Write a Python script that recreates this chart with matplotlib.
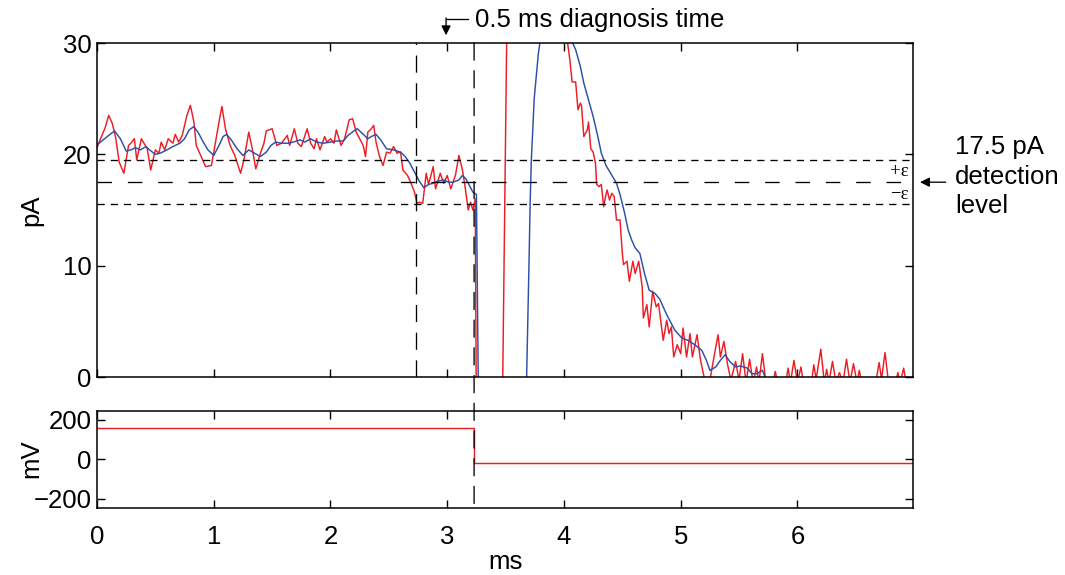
import matplotlib
matplotlib.use("Agg")
import matplotlib.pyplot as plt
from matplotlib.patches import ConnectionPatch

# measured current (red) and filtered current (blue), pA vs ms
red_t = [0.00, 0.03, 0.07, 0.10, 0.13, 0.16, 0.19, 0.23, 0.27, 0.29, 0.32, 0.34, 0.38, 0.43, 0.46,
         0.50, 0.53, 0.55, 0.58, 0.61, 0.65, 0.67, 0.70, 0.73, 0.77, 0.80, 0.83, 0.85, 0.90, 0.93,
         0.98, 1.01, 1.05, 1.07, 1.10, 1.14, 1.18, 1.23, 1.26, 1.30, 1.33, 1.36, 1.40, 1.43, 1.45,
         1.50, 1.54, 1.58, 1.63, 1.65, 1.69, 1.72, 1.75, 1.80, 1.83, 1.86, 1.88, 1.91, 1.95, 1.97,
         2.00, 2.03, 2.05, 2.09, 2.12, 2.14, 2.16, 2.19, 2.22, 2.25, 2.28, 2.30, 2.32, 2.35, 2.37,
         2.39, 2.42, 2.45, 2.48, 2.51, 2.54, 2.57, 2.60, 2.62, 2.66, 2.69, 2.72, 2.74, 2.76, 2.79,
         2.82, 2.84, 2.88, 2.90, 2.94, 2.97, 3.00, 3.03, 3.07, 3.10, 3.13, 3.15, 3.18, 3.20, 3.22,
         3.24, 3.25, 3.47, 3.52, 3.98, 4.03, 4.05, 4.07, 4.10, 4.12, 4.14, 4.15, 4.17, 4.20, 4.21,
         4.23, 4.25, 4.27, 4.28, 4.30, 4.32, 4.34, 4.36, 4.37, 4.39, 4.41, 4.43, 4.45, 4.48, 4.50,
         4.51, 4.54, 4.56, 4.59, 4.61, 4.64, 4.67, 4.68, 4.71, 4.73, 4.76, 4.79, 4.81, 4.85, 4.88,
         4.90, 4.92, 4.94, 4.97, 5.00, 5.02, 5.05, 5.08, 5.10, 5.14, 5.17, 5.21, 5.25, 5.29, 5.32,
         5.34, 5.37, 5.40, 5.43, 5.47, 5.50, 5.53, 5.56, 5.59, 5.62, 5.65, 5.67, 5.70, 5.73, 5.79,
         5.81, 5.83, 5.90, 5.92, 5.94, 5.97, 6.00, 6.03, 6.05, 6.12, 6.14, 6.16, 6.20, 6.23, 6.25,
         6.27, 6.30, 6.33, 6.36, 6.39, 6.42, 6.45, 6.48, 6.51, 6.53, 6.55, 6.67, 6.70, 6.72, 6.75,
         6.78, 6.84, 6.86, 6.88, 6.91, 6.93]
red_pa = [20.6, 21.4, 22.4, 23.5, 22.8, 21.5, 19.3, 18.3, 20.8, 21.0, 21.4, 19.5, 21.4, 20.5, 18.6,
          20.4, 20.1, 21.1, 20.4, 21.4, 21.0, 21.8, 21.1, 21.7, 23.5, 24.4, 22.9, 20.8, 19.6, 18.9,
          19.0, 20.8, 23.2, 24.3, 22.3, 20.8, 19.9, 18.3, 19.6, 22.0, 20.5, 18.7, 20.1, 21.0, 22.1,
          22.3, 20.8, 21.0, 21.7, 20.8, 22.3, 21.0, 20.7, 22.3, 21.0, 20.5, 21.4, 20.4, 21.6, 21.1,
          21.4, 21.0, 22.2, 20.8, 21.4, 22.2, 23.1, 23.2, 22.0, 21.4, 20.8, 19.8, 22.0, 22.3, 22.6,
          21.1, 19.8, 19.0, 20.2, 20.1, 20.7, 20.1, 20.2, 18.6, 18.1, 17.4, 16.6, 15.6, 15.7, 15.6,
          18.3, 17.3, 18.9, 16.9, 18.3, 17.4, 18.1, 16.9, 18.1, 19.9, 18.6, 17.3, 15.0, 15.7, 15.0,
          16.0, -5.0, -5.0, 40.0, 40.0, 30.1, 28.5, 26.5, 26.5, 24.0, 24.6, 24.4, 21.6, 22.2, 22.9,
          20.5, 20.2, 19.2, 17.3, 17.1, 17.3, 15.3, 16.4, 16.8, 15.9, 16.5, 16.2, 14.1, 14.1, 11.1,
          10.1, 10.4, 8.6, 10.4, 9.3, 10.4, 8.1, 5.3, 6.5, 4.5, 7.7, 6.3, 6.6, 3.3, 5.1,
          3.9, 4.5, 1.8, 2.9, 2.1, 4.4, 1.8, 3.9, 1.8, 3.8, 1.5, -0.5, -0.3, 2.1, 3.8,
          1.8, 3.2, 1.2, -0.3, 1.4, -0.3, 2.1, -0.5, 1.6, -0.5, 0.9, -0.5, 2.1, -0.5, -0.5,
          0.5, -0.5, -0.5, 0.8, -0.5, 1.5, -0.5, 0.9, -0.5, -0.5, 1.1, -0.2, 2.5, -0.5, 0.7,
          -0.5, 1.4, -0.5, 0.4, -0.5, 1.6, -0.5, 1.2, -0.5, 0.6, -0.5, -0.5, 1.3, -0.2, 2.2,
          -0.5, -0.5, 0.4, -0.5, 0.8, -0.5]

blue_t = [0.00, 0.03, 0.10, 0.15, 0.20, 0.25, 0.29, 0.33, 0.37, 0.42, 0.45, 0.50, 0.54, 0.60, 0.65,
          0.71, 0.75, 0.79, 0.83, 0.87, 0.91, 0.95, 1.00, 1.04, 1.08, 1.11, 1.15, 1.20, 1.25, 1.30,
          1.35, 1.40, 1.45, 1.49, 1.53, 1.58, 1.64, 1.68, 1.74, 1.78, 1.83, 1.88, 1.94, 2.00, 2.05,
          2.11, 2.15, 2.20, 2.23, 2.27, 2.32, 2.35, 2.39, 2.43, 2.48, 2.54, 2.60, 2.64, 2.68, 2.72,
          2.76, 2.80, 2.84, 2.88, 2.92, 2.97, 3.01, 3.05, 3.10, 3.13, 3.16, 3.20, 3.22, 3.25, 3.27,
          3.66, 3.68, 3.70, 3.71, 3.72, 3.745, 3.78, 3.80, 3.84, 4.02, 4.07, 4.10, 4.14, 4.17, 4.21,
          4.25, 4.29, 4.32, 4.36, 4.40, 4.45, 4.48, 4.52, 4.55, 4.58, 4.61, 4.65, 4.69, 4.73, 4.78,
          4.82, 4.88, 4.95, 5.01, 5.06, 5.12, 5.18, 5.22, 5.25, 5.30, 5.34, 5.38, 5.42, 5.47, 5.51,
          5.57, 5.61, 5.65, 5.70, 5.74, 6.90]
blue_pa = [20.9, 21.1, 21.7, 22.1, 21.4, 20.3, 20.4, 20.6, 20.4, 20.7, 20.4, 20.0, 20.1, 20.4, 20.7,
           21.0, 21.4, 22.2, 22.5, 21.9, 21.1, 20.4, 19.9, 20.7, 21.6, 21.8, 21.3, 20.5, 19.9, 20.4,
           20.1, 19.8, 20.2, 20.8, 21.1, 21.0, 21.0, 21.1, 21.3, 21.1, 21.4, 21.1, 21.0, 21.1, 21.2,
           21.2, 21.7, 22.1, 22.3, 21.9, 21.4, 21.6, 21.8, 21.3, 20.5, 20.4, 20.2, 19.8, 19.2, 18.4,
           17.6, 17.0, 17.3, 17.4, 17.6, 17.7, 17.5, 17.5, 17.7, 18.1, 17.8, 17.0, 16.6, 16.4, -5.0,
           -5.0, 0.0, 10.0, 15.5, 19.4, 25.0, 29.0, 30.5, 36.0, 36.0, 30.1, 29.4, 27.9, 26.4, 24.9,
           23.4, 21.6, 20.1, 19.0, 18.3, 17.4, 16.4, 14.7, 13.2, 12.3, 11.6, 11.1, 9.3, 7.8, 7.5,
           7.0, 5.6, 4.2, 3.5, 3.3, 2.9, 2.4, 1.5, 0.6, 0.9, 1.5, 2.0, 1.4, 0.9, 1.0,
           0.8, 0.3, 0.3, 0.6, -0.5, -0.5]

# applied voltage, mV vs ms
mv_t = [0.0, 3.23, 3.23, 6.99]
mv_v = [160, 160, -20, -20]

detect_level = 17.5
eps = 2.0
t_start = 2.73
t_diag = 3.23

plt.rcParams["font.family"] = ["Liberation Sans", "DejaVu Sans"]
plt.rcParams["font.size"] = 18.5

fig = plt.figure(figsize=(10.65, 5.75), dpi=100)
ax1 = fig.add_axes([0.0911, 0.3443, 0.7662, 0.5809])
ax2 = fig.add_axes([0.0911, 0.1165, 0.7662, 0.1687])

red = "#ee1c24"
blue = "#2c4fa8"

ax1.plot(red_t, red_pa, color=red, lw=1.05)
ax1.plot(blue_t, blue_pa, color=blue, lw=1.05)

short = (0, (5.5, 4.5))
ax1.axhline(detect_level + eps, color="black", lw=0.95, linestyle=short)
ax1.axhline(detect_level - eps, color="black", lw=0.95, linestyle=short)
ax1.axhline(detect_level, color="black", lw=0.95, linestyle=(0, (11, 12)))
ax1.axvline(t_start, color="black", lw=0.95, linestyle=(0, (13, 8)))

ax1.text(6.95, 18.5, "+ε", family="Liberation Serif", fontsize=13.5, ha="right", va="center")
ax1.text(6.95, 16.4, "−ε", family="Liberation Serif", fontsize=13.5, ha="right", va="center")

ax1.set_xlim(0, 6.99)
ax1.set_ylim(0, 30)
ax1.set_yticks([0, 10, 20, 30])
ax1.set_xticks(range(7))
ax1.tick_params(labelbottom=False)
ax1.set_ylabel("pA")
ax1.yaxis.set_label_coords(0.041, 0.635, transform=fig.transFigure)

# diagnosis-time annotation
ax1.plot([2.99, 3.18], [32.2, 32.2], color="black", lw=0.95, clip_on=False)
ax1.annotate("", xy=(2.99, 30.7), xytext=(2.99, 32.25),
             arrowprops=dict(arrowstyle="-|>", color="black", lw=0.95, mutation_scale=14,
                             shrinkA=0, shrinkB=0),
             annotation_clip=False)
ax1.text(3.24, 32.1, "0.5 ms diagnosis time", ha="left", va="center", clip_on=False)

# detection-level annotation
ax1.annotate("", xy=(7.05, detect_level), xytext=(7.27, detect_level),
             arrowprops=dict(arrowstyle="-|>", color="black", lw=0.95, mutation_scale=14,
                             shrinkA=0, shrinkB=0),
             annotation_clip=False)
ax1.text(7.35, detect_level + 0.5, "17.5 pA\ndetection\nlevel", ha="left", va="center",
         linespacing=1.3, clip_on=False)

ax2.plot(mv_t, mv_v, color=red, lw=1.05)
ax2.set_xlim(0, 6.99)
ax2.set_ylim(-248, 245)
ax2.set_yticks([-200, 0, 200])
ax2.set_yticklabels(["−200", "0", "200"])
ax2.set_xticks(range(7))
ax2.set_xlabel("ms", labelpad=1)
ax2.set_ylabel("mV")
ax2.yaxis.set_label_coords(0.041, 0.2017, transform=fig.transFigure)

for ax in (ax1, ax2):
    ax.tick_params(direction="in", top=True, right=True, length=6, width=1.0)
    ax.tick_params(axis="y", pad=4)
    ax.tick_params(axis="x", pad=12)
    for sp in ax.spines.values():
        sp.set_linewidth(1.1)

# diagnosis line running through both panels
con = ConnectionPatch(xyA=(t_diag, 30), coordsA=ax1.transData,
                      xyB=(t_diag, -248), coordsB=ax2.transData,
                      color="black", lw=0.95, linestyle=(0, (13, 8)))
fig.add_artist(con)

plt.savefig("out.png", dpi=100)
